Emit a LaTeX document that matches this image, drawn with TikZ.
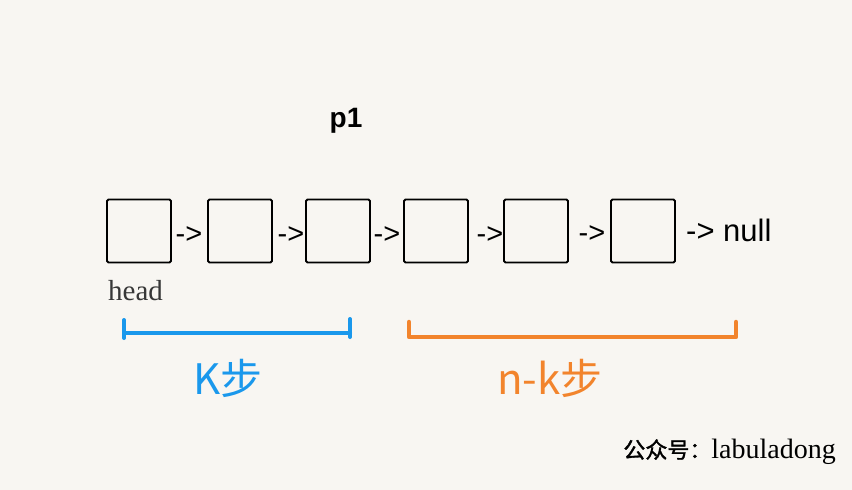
\documentclass[tikz,border=0pt]{standalone}
\usepackage{fontspec}
\setmainfont{Liberation Serif}
\setsansfont{Liberation Sans}
\newfontfamily\cjk{Noto Sans CJK SC}
\newfontfamily\cjkbold[FakeBold=1.5]{Noto Sans CJK SC}

\definecolor{lbpaper}{RGB}{248, 246, 242}
\definecolor{lbblue}{RGB}{26, 152, 236}
\definecolor{lborange}{RGB}{242, 132, 44}
\definecolor{lbhead}{RGB}{55, 55, 55}

\tikzset{
  listnode/.style={draw=black, line width=1.8pt, rounded corners=1.5pt,
    minimum width=64pt, minimum height=63pt, inner sep=0pt},
  nextarrow/.style={font=\sffamily\fontsize{29}{32}\selectfont, inner sep=0pt},
  bracket/.style={line width=4pt, line cap=round, line join=round}
}

\begin{document}
\begin{tikzpicture}[x=1pt, y=-1pt]
        \fill[lbpaper] (0,0) rectangle (852,490);
        \useasboundingbox (0,0) rectangle (852,490);
        % list nodes
        \node[listnode] (n1) at (139, 231) {};
        \node[listnode] (n2) at (240, 231) {};
        \node[listnode] (n3) at (338, 231) {};
        \node[listnode] (n4) at (436, 231) {};
        \node[listnode] (n5) at (536, 231) {};
        \node[listnode] (n6) at (643, 231) {};
        \node[nextarrow] (a1) at (189, 235) {->};
        \node[nextarrow] (a2) at (291, 235) {->};
        \node[nextarrow] (a3) at (387, 235) {->};
        \node[nextarrow] (a4) at (490, 235) {->};
        \node[nextarrow] (a5) at (592, 234) {->};
        \node[font=\sffamily\fontsize{31}{36}\selectfont, anchor=base west, inner sep=0pt]
          (tail) at (686, 241) {-> null};
        \node[font=\sffamily\bfseries\fontsize{28}{32}\selectfont, anchor=base, inner sep=0pt]
          (p1) at (346, 127) {p1};
        \node[font=\fontsize{29}{32}\selectfont, text=lbhead, anchor=base west, inner sep=0pt]
          (head) at (108, 300) {head};
        % k steps
        \draw[bracket, lbblue] (124,320) -- (124,338);
        \draw[bracket, lbblue] (124,333) -- (350,333);
        \draw[bracket, lbblue] (350,319) -- (350,337);
        \node[font=\cjk\fontsize{42}{48}\selectfont, text=lbblue] (ksteps) at (228, 378) {K步};
        % n-k steps
        \draw[bracket, lborange, line width=4.5pt] (409,322) -- (409,337) -- (736,337) -- (736,322);
        \node[font=\cjk\fontsize{42}{48}\selectfont, text=lborange] (nksteps) at (550, 378) {n-k步};
        \node[font=\fontsize{28}{32}\selectfont, anchor=base east, inner sep=0pt]
          (credit) at (836, 458) {{\cjkbold\fontsize{22}{26}\selectfont 公众号：}labuladong};
      \end{tikzpicture}
\end{document}
